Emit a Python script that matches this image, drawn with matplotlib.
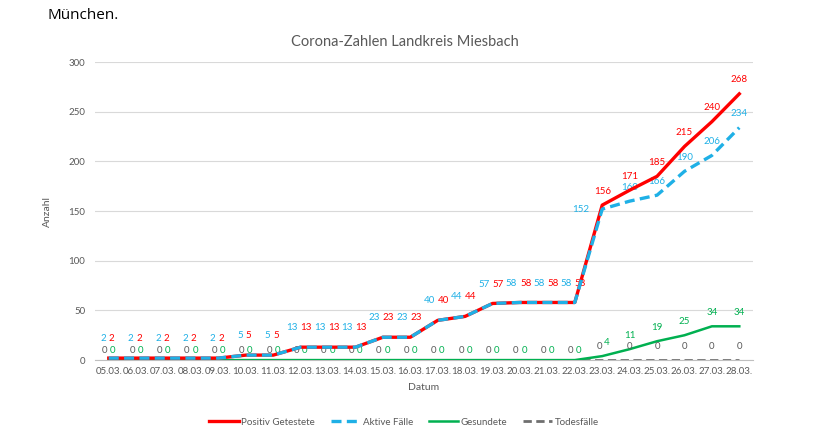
import matplotlib
matplotlib.use("Agg")
import matplotlib.pyplot as plt

plt.rcParams["font.family"] = ["Lato", "DejaVu Sans"]

dates = ["05.03.", "06.03.", "07.03.", "08.03.", "09.03.", "10.03.", "11.03.", "12.03.",
         "13.03.", "14.03.", "15.03.", "16.03.", "17.03.", "18.03.", "19.03.", "20.03.",
         "21.03.", "22.03.", "23.03.", "24.03.", "25.03.", "26.03.", "27.03.", "28.03."]
positiv = [2, 2, 2, 2, 2, 5, 5, 13, 13, 13, 23, 23, 40, 44, 57, 58, 58, 58,
           156, 171, 185, 215, 240, 268]
aktiv = [2, 2, 2, 2, 2, 5, 5, 13, 13, 13, 23, 23, 40, 44, 57, 58, 58, 58,
         152, 160, 166, 190, 206, 234]
gesund = [0] * 18 + [4, 11, 19, 25, 34, 34]
tote = [0] * 24

RED = "#FF0000"
BLUE = "#1FB0E6"
GREEN = "#00B050"
GRAY = "#6F6F6F"
TXT = "#595959"

fig = plt.figure(figsize=(8.2, 4.37), dpi=100)
ax = fig.add_axes([0.1159, 0.176, 0.8024, 0.682])

x = list(range(len(dates)))
ax.plot(x, positiv, color=RED, lw=2.4, label="Positiv Getestete", zorder=4)
ax.plot(x, aktiv, color=BLUE, lw=2.4, ls=(0, (3, 1.6)), label="Aktive Fälle", zorder=5)
ax.plot(x, gesund, color=GREEN, lw=1.8, label="Gesundete", zorder=3)
ax.plot(x, tote, color=GRAY, lw=2.0, ls=(0, (3, 1.6)), label="Todesfälle", zorder=2)

fs = 7
for i in x:
    if i < 18:
        ax.annotate(str(aktiv[i]), (i, aktiv[i]), xytext=(-2, 14), textcoords="offset points",
                    ha="right", va="center", fontsize=fs, color=BLUE)
        ax.annotate(str(positiv[i]), (i, positiv[i]), xytext=(0, 14), textcoords="offset points",
                    ha="left", va="center", fontsize=fs, color=RED)
        ax.annotate(str(tote[i]), (i, tote[i]), xytext=(-1, 7), textcoords="offset points",
                    ha="right", va="center", fontsize=fs, color=TXT)
        ax.annotate(str(gesund[i]), (i, gesund[i]), xytext=(1, 7), textcoords="offset points",
                    ha="left", va="center", fontsize=fs, color=GREEN)
    else:
        ax.annotate(str(positiv[i]), (i, positiv[i]), xytext=(0, 10), textcoords="offset points",
                    ha="center", va="center", fontsize=fs, color=RED)
        if i == 18:
            ax.annotate(str(aktiv[i]), (i, aktiv[i]), xytext=(-9, 0), textcoords="offset points",
                        ha="right", va="center", fontsize=fs, color=BLUE)
        else:
            ax.annotate(str(aktiv[i]), (i, aktiv[i]), xytext=(0, 10), textcoords="offset points",
                        ha="center", va="center", fontsize=fs, color=BLUE)
        if i == 18:
            ax.annotate(str(tote[i]), (i, tote[i]), xytext=(0, 10), textcoords="offset points",
                        ha="right", va="center", fontsize=fs, color=TXT)
            ax.annotate(str(gesund[i]), (i, gesund[i]), xytext=(1, 10), textcoords="offset points",
                        ha="left", va="center", fontsize=fs, color=GREEN)
        else:
            ax.annotate(str(tote[i]), (i, tote[i]), xytext=(0, 10), textcoords="offset points",
                        ha="center", va="center", fontsize=fs, color=TXT)
            ax.annotate(str(gesund[i]), (i, gesund[i]), xytext=(0, 10), textcoords="offset points",
                        ha="center", va="center", fontsize=fs, color=GREEN)

ax.set_xlim(-0.5, len(dates) - 0.5)
ax.set_ylim(0, 300)
ax.set_yticks(range(0, 301, 50))
ax.set_xticks(x)
ax.set_xticklabels(dates)
ax.tick_params(axis="both", length=0, labelsize=7, colors=TXT)
ax.tick_params(axis="x", pad=5)
ax.tick_params(axis="y", pad=7)
ax.grid(axis="y", color="#D9D9D9", lw=0.8)
ax.set_axisbelow(True)
for s in ["top", "right", "left"]:
    ax.spines[s].set_visible(False)
ax.spines["bottom"].set_color("#BFBFBF")

ax.set_xlabel("Datum", fontsize=7.5, color=TXT, labelpad=5)
ax.set_ylabel("Anzahl", fontsize=7.5, color=TXT, labelpad=12)
fig.text(0.494, 0.904, "Corona-Zahlen Landkreis Miesbach", ha="center", va="center",
         fontsize=10.5, color=TXT)
fig.text(0.058, 0.965, "München.", ha="left", va="center", fontsize=11, color="black",
         family=["Open Sans", "DejaVu Sans"])

fig.legend(loc="center", bbox_to_anchor=(0.493, 0.034), ncol=4, frameon=False,
           fontsize=7, handlelength=3.0, handletextpad=0.3, columnspacing=1.6,
           labelcolor=TXT)

fig.savefig("out.png", dpi=100)
